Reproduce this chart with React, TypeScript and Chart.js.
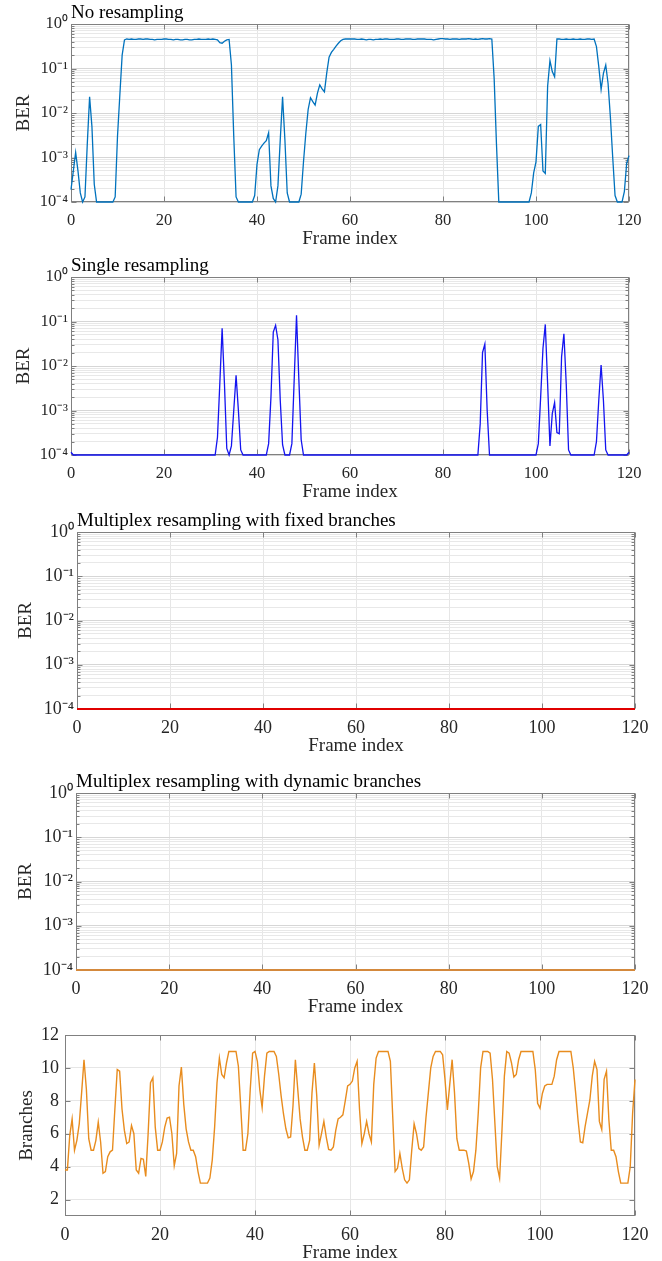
import React, { useEffect, useRef } from 'react';
import { Chart, registerables } from 'chart.js';

Chart.register(...registerables);

// ---------------- data ----------------
// frame index axis (0 .. 120, two samples per frame)
const FRAMES: number[] = Array.from({ length: 241 }, (_, i) => i / 2);

const X_TICKS = [0, 20, 40, 60, 80, 100, 120];
const BER_TICKS = [
  1e-4, 2e-4, 3e-4, 4e-4, 5e-4, 6e-4, 7e-4, 8e-4, 9e-4,
  1e-3, 2e-3, 3e-3, 4e-3, 5e-3, 6e-3, 7e-3, 8e-3, 9e-3,
  1e-2, 2e-2, 3e-2, 4e-2, 5e-2, 6e-2, 7e-2, 8e-2, 9e-2,
  0.1, 0.2, 0.3, 0.4, 0.5, 0.6, 0.7, 0.8, 0.9, 1,
];
const BER_TICK_LABELS: Record<string, string> = {
  '0.0001': '10⁻⁴',
  '0.001': '10⁻³',
  '0.01': '10⁻²',
  '0.1': '10⁻¹',
  '1': '10⁰',
};
const BRANCH_TICKS = [2, 4, 6, 8, 10, 12];

const NO_RESAMPLING_BER = [
  1.9e-4, 5e-4, 1.3e-3, 5e-4, 1.6e-4, 1e-4, 1.3e-4, 2e-3, 2.3e-2, 5e-3, 2.5e-4, 1e-4, 1e-4, 1e-4, 1e-4, 1e-4, 1e-4, 1e-4, 1e-4, 1.3e-4,
  3e-3, 2.5e-2, 0.2, 0.44, 0.46, 0.45, 0.46, 0.45, 0.45, 0.46, 0.46, 0.45, 0.46, 0.46, 0.45, 0.45, 0.44, 0.45, 0.45, 0.45,
  0.46, 0.46, 0.45, 0.45, 0.44, 0.45, 0.45, 0.44, 0.44, 0.45, 0.45, 0.44, 0.44, 0.45, 0.45, 0.46, 0.45, 0.45, 0.45, 0.46,
  0.45, 0.46, 0.45, 0.44, 0.38, 0.37, 0.41, 0.44, 0.45, 0.12, 3e-3, 1.3e-4, 1e-4, 1e-4, 1e-4, 1e-4, 1e-4, 1e-4, 1e-4, 1.4e-4,
  7e-4, 1.5e-3, 1.8e-3, 2.1e-3, 2.4e-3, 3.6e-3, 2.3e-4, 1.2e-4, 1e-4, 2.3e-4, 2.5e-3, 2.3e-2, 2.5e-3, 1.6e-4, 1e-4, 1e-4, 1e-4, 1e-4, 1e-4, 1.5e-4,
  8e-4, 3.5e-3, 1.2e-2, 2.2e-2, 1.8e-2, 1.5e-2, 2.8e-2, 4.3e-2, 3.5e-2, 3e-2, 8e-2, 0.18, 0.23, 0.27, 0.32, 0.37, 0.42, 0.45, 0.46, 0.46,
  0.46, 0.46, 0.46, 0.45, 0.45, 0.46, 0.45, 0.44, 0.45, 0.45, 0.44, 0.45, 0.45, 0.46, 0.45, 0.46, 0.46, 0.45, 0.45, 0.45,
  0.46, 0.46, 0.45, 0.45, 0.46, 0.46, 0.46, 0.45, 0.45, 0.46, 0.46, 0.46, 0.46, 0.45, 0.45, 0.45, 0.44, 0.45, 0.46, 0.47,
  0.47, 0.46, 0.46, 0.45, 0.46, 0.46, 0.46, 0.45, 0.46, 0.46, 0.46, 0.47, 0.46, 0.45, 0.46, 0.45, 0.46, 0.47, 0.46, 0.46,
  0.47, 0.46, 0.06, 2e-3, 1e-4, 1e-4, 1e-4, 1e-4, 1e-4, 1e-4, 1e-4, 1e-4, 1e-4, 1e-4, 1e-4, 1e-4, 1e-4, 1e-4, 1.6e-4, 4.5e-4,
  8e-4, 5e-3, 5.5e-3, 5e-4, 4.4e-4, 4e-2, 0.15, 8.5e-2, 6.5e-2, 0.46, 0.46, 0.45, 0.45, 0.46, 0.45, 0.45, 0.46, 0.45, 0.45, 0.46,
  0.45, 0.45, 0.46, 0.46, 0.45, 0.46, 0.31, 0.11, 3.4e-2, 7.8e-2, 0.12, 4.6e-2, 8e-3, 1e-3, 1.4e-4, 1e-4, 1e-4, 1e-4, 1.7e-4, 7.4e-4,
  1.1e-3,
];

const SINGLE_RESAMPLING_BER = [
  1.15e-4, 1e-4, 1e-4, 1e-4, 1e-4, 1e-4, 1e-4, 1e-4, 1e-4, 1e-4, 1e-4, 1e-4, 1e-4, 1e-4, 1e-4, 1e-4, 1e-4, 1e-4, 1e-4, 1e-4,
  1e-4, 1e-4, 1e-4, 1e-4, 1e-4, 1e-4, 1e-4, 1e-4, 1e-4, 1e-4, 1e-4, 1e-4, 1e-4, 1e-4, 1e-4, 1e-4, 1e-4, 1e-4, 1e-4, 1e-4,
  1e-4, 1e-4, 1e-4, 1e-4, 1e-4, 1e-4, 1e-4, 1e-4, 1e-4, 1e-4, 1e-4, 1e-4, 1e-4, 1e-4, 1e-4, 1e-4, 1e-4, 1e-4, 1e-4, 1e-4,
  1e-4, 1e-4, 1e-4, 2.5e-4, 4e-3, 7e-2, 4e-3, 1.4e-4, 1e-4, 1.6e-4, 1e-3, 6.2e-3, 1e-3, 1.3e-4, 1e-4, 1e-4, 1e-4, 1e-4, 1e-4, 1e-4,
  1e-4, 1e-4, 1e-4, 1e-4, 1e-4, 1.8e-4, 2e-3, 5.8e-2, 8.2e-2, 3.9e-2, 1.7e-3, 1.7e-4, 1e-4, 1e-4, 1e-4, 1.8e-4, 5e-3, 0.138, 5e-3, 2.2e-4,
  1e-4, 1e-4, 1e-4, 1e-4, 1e-4, 1e-4, 1e-4, 1e-4, 1e-4, 1e-4, 1e-4, 1e-4, 1e-4, 1e-4, 1e-4, 1e-4, 1e-4, 1e-4, 1e-4, 1e-4,
  1e-4, 1e-4, 1e-4, 1e-4, 1e-4, 1e-4, 1e-4, 1e-4, 1e-4, 1e-4, 1e-4, 1e-4, 1e-4, 1e-4, 1e-4, 1e-4, 1e-4, 1e-4, 1e-4, 1e-4,
  1e-4, 1e-4, 1e-4, 1e-4, 1e-4, 1e-4, 1e-4, 1e-4, 1e-4, 1e-4, 1e-4, 1e-4, 1e-4, 1e-4, 1e-4, 1e-4, 1e-4, 1e-4, 1e-4, 1e-4,
  1e-4, 1e-4, 1e-4, 1e-4, 1e-4, 1e-4, 1e-4, 1e-4, 1e-4, 1e-4, 1e-4, 1e-4, 1e-4, 1e-4, 1e-4, 1e-4, 5e-4, 2e-2, 3.1e-2, 1e-3,
  1e-4, 1e-4, 1e-4, 1e-4, 1e-4, 1e-4, 1e-4, 1e-4, 1e-4, 1e-4, 1e-4, 1e-4, 1e-4, 1e-4, 1e-4, 1e-4, 1e-4, 1e-4, 1e-4, 1e-4,
  1e-4, 1.8e-4, 2e-3, 2.5e-2, 8.6e-2, 4e-3, 1.6e-4, 8.5e-4, 1.5e-3, 3.2e-4, 3e-4, 1.6e-2, 5.3e-2, 4e-3, 1.3e-4, 1e-4, 1e-4, 1e-4, 1e-4, 1e-4,
  1e-4, 1e-4, 1e-4, 1e-4, 1e-4, 1e-4, 2e-4, 1.7e-3, 1.05e-2, 1.7e-3, 1.3e-4, 1e-4, 1e-4, 1e-4, 1e-4, 1e-4, 1e-4, 1e-4, 1e-4, 1e-4,
  1.15e-4,
];

const FIXED_BRANCHES_BER = [
  1e-4, 1e-4, 1e-4, 1e-4, 1e-4, 1e-4, 1e-4, 1e-4, 1e-4, 1e-4, 1e-4, 1e-4, 1e-4, 1e-4, 1e-4, 1e-4, 1e-4, 1e-4, 1e-4, 1e-4,
  1e-4, 1e-4, 1e-4, 1e-4, 1e-4, 1e-4, 1e-4, 1e-4, 1e-4, 1e-4, 1e-4, 1e-4, 1e-4, 1e-4, 1e-4, 1e-4, 1e-4, 1e-4, 1e-4, 1e-4,
  1e-4, 1e-4, 1e-4, 1e-4, 1e-4, 1e-4, 1e-4, 1e-4, 1e-4, 1e-4, 1e-4, 1e-4, 1e-4, 1e-4, 1e-4, 1e-4, 1e-4, 1e-4, 1e-4, 1e-4,
  1e-4, 1e-4, 1e-4, 1e-4, 1e-4, 1e-4, 1e-4, 1e-4, 1e-4, 1e-4, 1e-4, 1e-4, 1e-4, 1e-4, 1e-4, 1e-4, 1e-4, 1e-4, 1e-4, 1e-4,
  1e-4, 1e-4, 1e-4, 1e-4, 1e-4, 1e-4, 1e-4, 1e-4, 1e-4, 1e-4, 1e-4, 1e-4, 1e-4, 1e-4, 1e-4, 1e-4, 1e-4, 1e-4, 1e-4, 1e-4,
  1e-4, 1e-4, 1e-4, 1e-4, 1e-4, 1e-4, 1e-4, 1e-4, 1e-4, 1e-4, 1e-4, 1e-4, 1e-4, 1e-4, 1e-4, 1e-4, 1e-4, 1e-4, 1e-4, 1e-4,
  1e-4, 1e-4, 1e-4, 1e-4, 1e-4, 1e-4, 1e-4, 1e-4, 1e-4, 1e-4, 1e-4, 1e-4, 1e-4, 1e-4, 1e-4, 1e-4, 1e-4, 1e-4, 1e-4, 1e-4,
  1e-4, 1e-4, 1e-4, 1e-4, 1e-4, 1e-4, 1e-4, 1e-4, 1e-4, 1e-4, 1e-4, 1e-4, 1e-4, 1e-4, 1e-4, 1e-4, 1e-4, 1e-4, 1e-4, 1e-4,
  1e-4, 1e-4, 1e-4, 1e-4, 1e-4, 1e-4, 1e-4, 1e-4, 1e-4, 1e-4, 1e-4, 1e-4, 1e-4, 1e-4, 1e-4, 1e-4, 1e-4, 1e-4, 1e-4, 1e-4,
  1e-4, 1e-4, 1e-4, 1e-4, 1e-4, 1e-4, 1e-4, 1e-4, 1e-4, 1e-4, 1e-4, 1e-4, 1e-4, 1e-4, 1e-4, 1e-4, 1e-4, 1e-4, 1e-4, 1e-4,
  1e-4, 1e-4, 1e-4, 1e-4, 1e-4, 1e-4, 1e-4, 1e-4, 1e-4, 1e-4, 1e-4, 1e-4, 1e-4, 1e-4, 1e-4, 1e-4, 1e-4, 1e-4, 1e-4, 1e-4,
  1e-4, 1e-4, 1e-4, 1e-4, 1e-4, 1e-4, 1e-4, 1e-4, 1e-4, 1e-4, 1e-4, 1e-4, 1e-4, 1e-4, 1e-4, 1e-4, 1e-4, 1e-4, 1e-4, 1e-4,
  1e-4,
];

const DYNAMIC_BRANCHES_BER = [
  1e-4, 1e-4, 1e-4, 1e-4, 1e-4, 1e-4, 1e-4, 1e-4, 1e-4, 1e-4, 1e-4, 1e-4, 1e-4, 1e-4, 1e-4, 1e-4, 1e-4, 1e-4, 1e-4, 1e-4,
  1e-4, 1e-4, 1e-4, 1e-4, 1e-4, 1e-4, 1e-4, 1e-4, 1e-4, 1e-4, 1e-4, 1e-4, 1e-4, 1e-4, 1e-4, 1e-4, 1e-4, 1e-4, 1e-4, 1e-4,
  1e-4, 1e-4, 1e-4, 1e-4, 1e-4, 1e-4, 1e-4, 1e-4, 1e-4, 1e-4, 1e-4, 1e-4, 1e-4, 1e-4, 1e-4, 1e-4, 1e-4, 1e-4, 1e-4, 1e-4,
  1e-4, 1e-4, 1e-4, 1e-4, 1e-4, 1e-4, 1e-4, 1e-4, 1e-4, 1e-4, 1e-4, 1e-4, 1e-4, 1e-4, 1e-4, 1e-4, 1e-4, 1e-4, 1e-4, 1e-4,
  1e-4, 1e-4, 1e-4, 1e-4, 1e-4, 1e-4, 1e-4, 1e-4, 1e-4, 1e-4, 1e-4, 1e-4, 1e-4, 1e-4, 1e-4, 1e-4, 1e-4, 1e-4, 1e-4, 1e-4,
  1e-4, 1e-4, 1e-4, 1e-4, 1e-4, 1e-4, 1e-4, 1e-4, 1e-4, 1e-4, 1e-4, 1e-4, 1e-4, 1e-4, 1e-4, 1e-4, 1e-4, 1e-4, 1e-4, 1e-4,
  1e-4, 1e-4, 1e-4, 1e-4, 1e-4, 1e-4, 1e-4, 1e-4, 1e-4, 1e-4, 1e-4, 1e-4, 1e-4, 1e-4, 1e-4, 1e-4, 1e-4, 1e-4, 1e-4, 1e-4,
  1e-4, 1e-4, 1e-4, 1e-4, 1e-4, 1e-4, 1e-4, 1e-4, 1e-4, 1e-4, 1e-4, 1e-4, 1e-4, 1e-4, 1e-4, 1e-4, 1e-4, 1e-4, 1e-4, 1e-4,
  1e-4, 1e-4, 1e-4, 1e-4, 1e-4, 1e-4, 1e-4, 1e-4, 1e-4, 1e-4, 1e-4, 1e-4, 1e-4, 1e-4, 1e-4, 1e-4, 1e-4, 1e-4, 1e-4, 1e-4,
  1e-4, 1e-4, 1e-4, 1e-4, 1e-4, 1e-4, 1e-4, 1e-4, 1e-4, 1e-4, 1e-4, 1e-4, 1e-4, 1e-4, 1e-4, 1e-4, 1e-4, 1e-4, 1e-4, 1e-4,
  1e-4, 1e-4, 1e-4, 1e-4, 1e-4, 1e-4, 1e-4, 1e-4, 1e-4, 1e-4, 1e-4, 1e-4, 1e-4, 1e-4, 1e-4, 1e-4, 1e-4, 1e-4, 1e-4, 1e-4,
  1e-4, 1e-4, 1e-4, 1e-4, 1e-4, 1e-4, 1e-4, 1e-4, 1e-4, 1e-4, 1e-4, 1e-4, 1e-4, 1e-4, 1e-4, 1e-4, 1e-4, 1e-4, 1e-4, 1e-4,
  1e-4,
];

const DYNAMIC_BRANCHES = [
  3.8, 3.8, 5.9, 6.9, 5.0, 5.6, 6.6, 8.5, 10.5, 8.7, 5.7, 5.0, 5.0, 5.6, 6.7, 5.5, 3.6, 3.7, 4.6, 4.9,
  5.0, 7.5, 9.9, 9.8, 7.5, 6.2, 5.4, 5.5, 6.5, 6.0, 3.8, 3.6, 4.5, 4.45, 3.4, 6.0, 9.1, 9.4, 6.4, 5.0,
  5.0, 5.5, 6.4, 6.95, 7.0, 6.0, 4.05, 4.8, 8.9, 10.05, 7.8, 6.3, 5.5, 5.0, 5.0, 4.6, 3.7, 3.0, 3.0, 3.0,
  3.0, 3.3, 4.4, 6.4, 9.1, 10.6, 9.6, 9.4, 10.3, 11, 11, 11, 11, 10.1, 7.6, 5.0, 5.0, 6.0, 8.7, 10.9,
  11, 10.4, 8.7, 7.6, 9.5, 10.9, 11, 11, 11, 10.7, 9.6, 8.3, 7.2, 6.3, 5.75, 5.8, 7.7, 10.5, 8.7, 6.9,
  5.8, 5.0, 5.0, 5.6, 8.5, 10.3, 8.3, 5.3, 6.0, 6.75, 5.8, 5.05, 5.0, 5.2, 6.2, 6.9, 7.0, 7.15, 8.0, 8.9,
  9.0, 9.2, 10.0, 10.4, 7.5, 5.4, 6.0, 6.75, 6.0, 5.5, 9.0, 10.6, 11, 11, 11, 11, 11, 10.4, 7.0, 3.7,
  3.9, 4.8, 3.9, 3.2, 3.0, 3.2, 5.0, 6.6, 6.0, 5.1, 5.0, 5.2, 7.0, 8.5, 10.0, 10.7, 11, 11, 11, 10.8,
  9.3, 7.45, 9.0, 10.5, 8.5, 5.7, 5.0, 5.0, 5.0, 4.95, 4.2, 3.25, 3.7, 5.0, 7.25, 10.0, 11, 11, 11, 10.9,
  9.3, 6.65, 4.0, 3.3, 6.25, 9.5, 11, 10.9, 10.3, 9.45, 9.6, 10.5, 11, 11, 11, 11, 11, 11, 9.9, 7.85,
  7.55, 8.45, 8.9, 9.0, 9.0, 9.0, 9.5, 10.5, 11, 11, 11, 11, 11, 11, 10.0, 8.5, 6.85, 5.5, 5.45, 6.45,
  7.25, 8.05, 9.5, 10.4, 9.9, 6.75, 6.25, 9.3, 9.8, 6.85, 5.0, 5.0, 4.6, 3.7, 3.0, 3.0, 3.0, 3.0, 4.0, 7.25,
  9.3,
];

// ---------------- styling / layout ----------------
const FONT = "'Liberation Serif', 'Times New Roman', serif";
const TEXT = '#262626';
const BOX = '#808080';
const W = 662;
const X_AXIS_H = 48;
const LABEL_SIZE = 19;

type PanelCfg = {
  title: string;
  yLabel: string;
  kind: 'log' | 'lin';
  series: number[];
  color: string;
  lineWidth: number;
  left: number;
  right: number;
  top: number;
  bottom: number;
  yTitlePad: number;
  yTickPad: number;
  tickSize: number;
  xTickPad: number;
};

const PANELS: PanelCfg[] = [
  { title: 'No resampling', yLabel: 'BER', kind: 'log', series: NO_RESAMPLING_BER, color: '#0072BD', lineWidth: 1.3, left: 71, right: 629, top: 24, bottom: 202, yTitlePad: 13, yTickPad: 3, tickSize: 16.5, xTickPad: 9 },
  { title: 'Single resampling', yLabel: 'BER', kind: 'log', series: SINGLE_RESAMPLING_BER, color: '#1414F0', lineWidth: 1.3, left: 71, right: 629, top: 277, bottom: 455, yTitlePad: 13, yTickPad: 3, tickSize: 16.5, xTickPad: 9 },
  { title: 'Multiplex resampling with fixed branches', yLabel: 'BER', kind: 'log', series: FIXED_BRANCHES_BER, color: '#E00000', lineWidth: 2, left: 77, right: 635, top: 532, bottom: 709, yTitlePad: 15, yTickPad: 3, tickSize: 18, xTickPad: 8 },
  { title: 'Multiplex resampling with dynamic branches', yLabel: 'BER', kind: 'log', series: DYNAMIC_BRANCHES_BER, color: '#D4893C', lineWidth: 2, left: 76, right: 635, top: 793, bottom: 970, yTitlePad: 15, yTickPad: 3, tickSize: 18, xTickPad: 8 },
  { title: '', yLabel: 'Branches', kind: 'lin', series: DYNAMIC_BRANCHES, color: '#E88C1E', lineWidth: 1.4, left: 65, right: 635, top: 1035, bottom: 1216, yTitlePad: 16, yTickPad: 6, tickSize: 18, xTickPad: 8 },
];

const isDecade = (v: number) => BER_TICK_LABELS[String(v)] !== undefined;

const framePlugin = {
  id: 'frame',
  beforeDatasetsDraw(chart: any, _args: any, opts: any) {
    const { ctx, chartArea: a, scales } = chart;
    const L = Math.round(a.left) + 0.5;
    const R = Math.round(a.right) - 0.5;
    const T = Math.round(a.top) + 0.5;
    const B = Math.round(a.bottom) - 0.5;
    ctx.save();
    ctx.strokeStyle = BOX;
    ctx.lineWidth = 1;
    ctx.strokeRect(L, T, R - L, B - T);
    ctx.beginPath();
    scales.x.ticks.forEach((t: any) => {
      const px = Math.round(scales.x.getPixelForValue(t.value)) + 0.5;
      ctx.moveTo(px, B);
      ctx.lineTo(px, B - 5);
      ctx.moveTo(px, T);
      ctx.lineTo(px, T + 5);
    });
    const log = opts.kind === 'log';
    scales.y.ticks.forEach((t: any) => {
      const py = Math.round(scales.y.getPixelForValue(t.value)) + 0.5;
      const len = !log || isDecade(t.value) ? 5 : 3;
      ctx.moveTo(L, py);
      ctx.lineTo(L + len, py);
      ctx.moveTo(R, py);
      ctx.lineTo(R - len, py);
    });
    ctx.stroke();
    ctx.restore();
  },
  afterDraw(chart: any, _args: any, opts: any) {
    if (!opts.title) return;
    const { ctx, chartArea: a } = chart;
    ctx.save();
    ctx.font = `${LABEL_SIZE}px ${FONT}`;
    ctx.fillStyle = '#000';
    ctx.textAlign = 'left';
    ctx.textBaseline = 'alphabetic';
    ctx.fillText(opts.title, a.left, a.top - 6);
    ctx.restore();
  },
};

function Panel({ cfg }: { cfg: PanelCfg }) {
  const ref = useRef<HTMLCanvasElement | null>(null);
  const canvasTop = Math.max(0, cfg.top - 30);
  const topPad = cfg.top - canvasTop;
  const height = topPad + (cfg.bottom - cfg.top) + X_AXIS_H;

  useEffect(() => {
    if (!ref.current) return;
    const log = cfg.kind === 'log';
    const yScale: any = log
      ? {
          type: 'logarithmic',
          min: 1e-4,
          max: 1,
          afterBuildTicks: (s: any) => {
            s.ticks = BER_TICKS.map((v) => ({ value: v }));
          },
          ticks: {
            autoSkip: false,
            padding: cfg.yTickPad,
            color: TEXT,
            font: { family: FONT, size: cfg.tickSize },
            callback: (v: any) => BER_TICK_LABELS[String(v)] ?? '',
          },
          grid: {
            drawTicks: false,
            color: (c: any) => (c.tick && isDecade(c.tick.value) ? '#d6d6d6' : '#e8e8e8'),
          },
        }
      : {
          type: 'linear',
          min: 1,
          max: 12,
          afterBuildTicks: (s: any) => {
            s.ticks = BRANCH_TICKS.map((v) => ({ value: v }));
          },
          ticks: {
            autoSkip: false,
            padding: cfg.yTickPad,
            color: TEXT,
            font: { family: FONT, size: cfg.tickSize },
          },
          grid: { drawTicks: false, color: '#e6e6e6' },
        };
    yScale.border = { display: false };
    yScale.title = {
      display: true,
      text: cfg.yLabel,
      color: TEXT,
      font: { family: FONT, size: LABEL_SIZE },
      padding: { top: cfg.yTitlePad, bottom: 0 },
    };
    yScale.afterFit = (s: any) => {
      s.width = cfg.left;
    };

    const chart = new Chart(ref.current, {
      type: 'line',
      data: {
        datasets: [
          {
            data: FRAMES.map((x, i) => ({ x, y: cfg.series[i] })),
            borderColor: cfg.color,
            borderWidth: cfg.lineWidth,
            pointRadius: 0,
            tension: 0,
            fill: false,
            clip: 4,
          } as any,
        ],
      },
      options: {
        responsive: false,
        animation: false,
        devicePixelRatio: 1,
        events: [],
        layout: { padding: { left: 0, right: W - cfg.right, top: topPad, bottom: 0 } },
        plugins: {
          legend: { display: false },
          tooltip: { enabled: false },
          title: { display: false },
          frame: { title: cfg.title, kind: cfg.kind },
        } as any,
        scales: {
          x: {
            type: 'linear',
            min: 0,
            max: 120,
            afterBuildTicks: (s: any) => {
              s.ticks = X_TICKS.map((v) => ({ value: v }));
            },
            afterFit: (s: any) => {
              s.height = X_AXIS_H;
            },
            border: { display: false },
            grid: { drawTicks: false, color: '#e6e6e6' },
            ticks: {
              autoSkip: false,
              maxRotation: 0,
              padding: cfg.xTickPad,
              color: TEXT,
              font: { family: FONT, size: cfg.tickSize },
            },
            title: {
              display: true,
              text: 'Frame index',
              color: TEXT,
              font: { family: FONT, size: LABEL_SIZE },
              padding: { top: 0, bottom: 0 },
            },
          } as any,
          y: yScale,
        },
      },
      plugins: [framePlugin as any],
    });
    return () => chart.destroy();
  }, []);

  return (
    <canvas
      ref={ref}
      width={W}
      height={height}
      style={{ position: 'absolute', left: 0, top: canvasTop, width: W, height }}
    />
  );
}

export default function App() {
  return (
    <div style={{ position: 'absolute', left: 0, top: 0, width: W, height: 1261, background: '#fff', overflow: 'hidden' }}>
      {PANELS.map((p, i) => (
        <Panel key={i} cfg={p} />
      ))}
    </div>
  );
}
